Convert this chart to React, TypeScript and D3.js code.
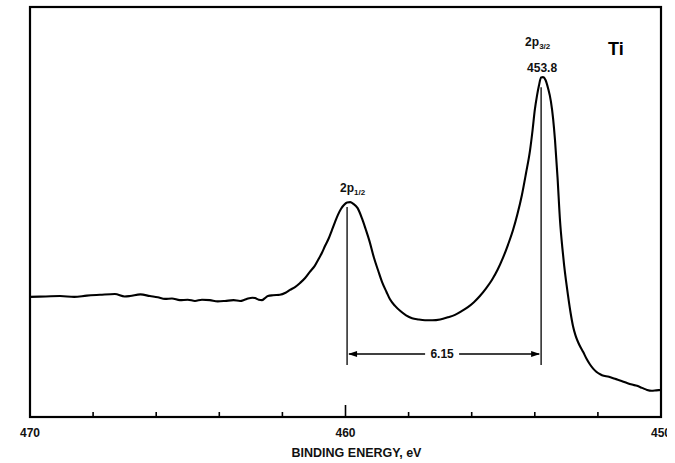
import React from "react";
import * as d3 from "d3";

// Ti 2p XPS spectrum: binding energy (eV) vs. intensity (arb. units)
const energy = [
  470.0, 469.5, 469.05, 468.6, 468.2, 467.78, 467.31, 467.0, 466.83, 466.5, 466.2,
  465.95, 465.72, 465.5, 465.25, 465.0, 464.77, 464.55, 464.3, 464.05, 463.82, 463.55,
  463.34, 463.2, 463.09, 462.95, 462.87, 462.75, 462.65, 462.55, 462.46, 462.3, 462.08,
  461.9, 461.76, 461.6, 461.44, 461.28, 461.13, 460.98, 460.87, 460.75, 460.65, 460.53,
  460.43, 460.33, 460.24, 460.14, 460.05, 459.95, 459.85, 459.75, 459.62, 459.48, 459.36,
  459.24, 459.1, 458.96, 458.84, 458.7, 458.59, 458.43, 458.27, 458.08, 457.89, 457.7,
  457.48, 457.25, 457.0, 456.76, 456.53, 456.32, 456.12, 455.93, 455.74, 455.55, 455.36,
  455.18, 455.01, 454.85, 454.69, 454.55, 454.41, 454.28, 454.15, 454.07, 454.0, 453.93,
  453.87, 453.8, 453.74, 453.66, 453.58, 453.49, 453.42, 453.36, 453.28, 453.2, 453.13,
  453.07, 453.01, 452.95, 452.87, 452.79, 452.71, 452.63, 452.55, 452.47, 452.36, 452.25,
  452.15, 452.06, 451.95, 451.87, 451.65, 451.46, 451.25, 451.08, 450.92, 450.76, 450.6,
  450.44, 450.3, 450.15, 450.0,
];

const intensity = [
  29.3, 29.4, 29.5, 29.3, 29.6, 29.8, 30.0, 29.4, 29.5, 29.9, 29.5,
  29.2, 28.8, 28.9, 28.5, 28.6, 28.3, 28.6, 28.5, 28.2, 28.3, 28.5,
  28.3, 28.6, 28.9, 29.1, 29.0, 28.6, 28.5, 29.0, 29.5, 29.7, 29.8,
  30.3, 31.0, 31.7, 32.7, 33.9, 35.4, 36.8, 38.3, 40.0, 41.7, 43.6,
  45.6, 47.6, 49.3, 50.8, 51.7, 52.3, 52.4, 52.0, 51.0, 48.5, 45.8,
  42.9, 38.9, 35.6, 32.9, 30.5, 28.7, 27.1, 25.9, 24.8, 24.1, 23.8,
  23.6, 23.6, 23.8, 24.3, 24.9, 25.8, 26.8, 28.0, 29.5, 31.3, 33.4,
  35.9, 38.8, 42.0, 45.6, 49.5, 54.1, 59.4, 65.1, 70.0, 74.9, 78.4,
  80.8, 82.8, 82.9, 82.2, 80.2, 77.0, 72.8, 67.6, 58.5, 47.8, 41.5,
  37.0, 33.2, 29.8, 25.6, 22.2, 19.9, 18.3, 17.0, 15.9, 14.2, 12.8,
  11.8, 11.1, 10.5, 10.2, 9.8, 9.3, 8.8, 8.3, 7.9, 7.6, 7.1,
  6.6, 6.4, 6.5, 6.6,
];

const xTicks = [470, 468, 466, 464, 462, 460, 458, 456, 454, 452, 450];
const xTickLabels = ["470", "460", "450"];
const peak32 = 453.8;
const splitting = 6.15;
const peak12 = peak32 + splitting;

const W = 675;
const H = 463;
const frame = { left: 30, right: 661, top: 7, bottom: 417 };
const FONT = "'Liberation Sans', Arial, Helvetica, sans-serif";

export default function App() {
  const x = d3.scaleLinear().domain([470, 450]).range([frame.left, frame.right]);
  const y = d3.scaleLinear().domain([0, 100]).range([frame.bottom, frame.top]);

  const points: [number, number][] = energy.map((e, i) => [x(e), y(intensity[i])]);
  const path = d3.line().curve(d3.curveMonotoneX)(points) || "";

  const lineTop12 = y(51.2);
  const lineTop32 = y(80.4);
  const lineBottom = 365;
  const arrowY = 354;
  const xl = x(peak12);
  const xr = x(peak32);
  const textMid = (xl + xr) / 2 - 2;
  const gap = 17;

  return (
    <svg
      width={W}
      height={H}
      viewBox={`0 0 ${W} ${H}`}
      style={{ position: "absolute", left: 0, top: 0, background: "#fff" }}
      fontFamily={FONT}
    >
      <defs>
        <clipPath id="page-edge">
          <rect x={0} y={0} width={667} height={H} />
        </clipPath>
      </defs>
      <rect x={0} y={0} width={W} height={H} fill="#fff" />

      {/* frame */}
      <rect
        x={frame.left}
        y={frame.top}
        width={frame.right - frame.left}
        height={frame.bottom - frame.top}
        fill="none"
        stroke="#000"
        strokeWidth={2.2}
      />

      {/* bottom ticks, pointing inward */}
      {xTicks.map((t) => {
        const major = xTickLabels.includes(String(t));
        const len = t === 460 ? 12 : major ? 0 : 5;
        return len > 0 ? (
          <line
            key={t}
            x1={x(t)}
            x2={x(t)}
            y1={frame.bottom}
            y2={frame.bottom - len}
            stroke="#000"
            strokeWidth={1.6}
          />
        ) : null;
      })}

      <g clipPath="url(#page-edge)">
        {xTickLabels.map((t) => (
          <text
            key={t}
            x={x(+t)}
            y={437}
            textAnchor="middle"
            fontSize={12}
            fontWeight="bold"
            fill="#111"
          >
            {t}
          </text>
        ))}
      </g>

      <text
        x={(frame.left + frame.right) / 2 + 11}
        y={457}
        textAnchor="middle"
        fontSize={12.5}
        fontWeight="bold"
        fill="#111"
      >
        BINDING ENERGY, eV
      </text>

      {/* spectrum */}
      <path d={path} fill="none" stroke="#000" strokeWidth={2.1} strokeLinejoin="round" />

      {/* peak markers */}
      <line x1={xl} x2={xl} y1={lineTop12} y2={lineBottom} stroke="#000" strokeWidth={1.3} />
      <line x1={xr} x2={xr} y1={lineTop32} y2={lineBottom} stroke="#000" strokeWidth={1.3} />

      {/* spin-orbit splitting arrow */}
      <line x1={xl + 2} x2={textMid - gap} y1={arrowY} y2={arrowY} stroke="#000" strokeWidth={1.3} />
      <line x1={textMid + gap} x2={xr - 2} y1={arrowY} y2={arrowY} stroke="#000" strokeWidth={1.3} />
      <path d={`M${xl + 1},${arrowY} l9,-3 l0,6 Z`} fill="#000" />
      <path d={`M${xr - 1},${arrowY} l-9,-3 l0,6 Z`} fill="#000" />
      <text x={textMid} y={358} textAnchor="middle" fontSize={12} fontWeight="bold" fill="#111">
        {splitting.toFixed(2)}
      </text>

      {/* peak labels */}
      <text x={xl - 7} y={192} fontSize={12} fontWeight="bold" fill="#111">
        2p
        <tspan fontSize={8} dy={3}>1/2</tspan>
      </text>
      <text x={xr - 16} y={46} fontSize={12} fontWeight="bold" fill="#111">
        2p
        <tspan fontSize={8} dy={3}>3/2</tspan>
      </text>
      <text x={xr + 1} y={72} textAnchor="middle" fontSize={12} fontWeight="bold" fill="#111">
        {peak32.toFixed(1)}
      </text>

      <text x={608} y={55} fontSize={18} fontWeight="bold" fill="#000">
        Ti
      </text>
    </svg>
  );
}
